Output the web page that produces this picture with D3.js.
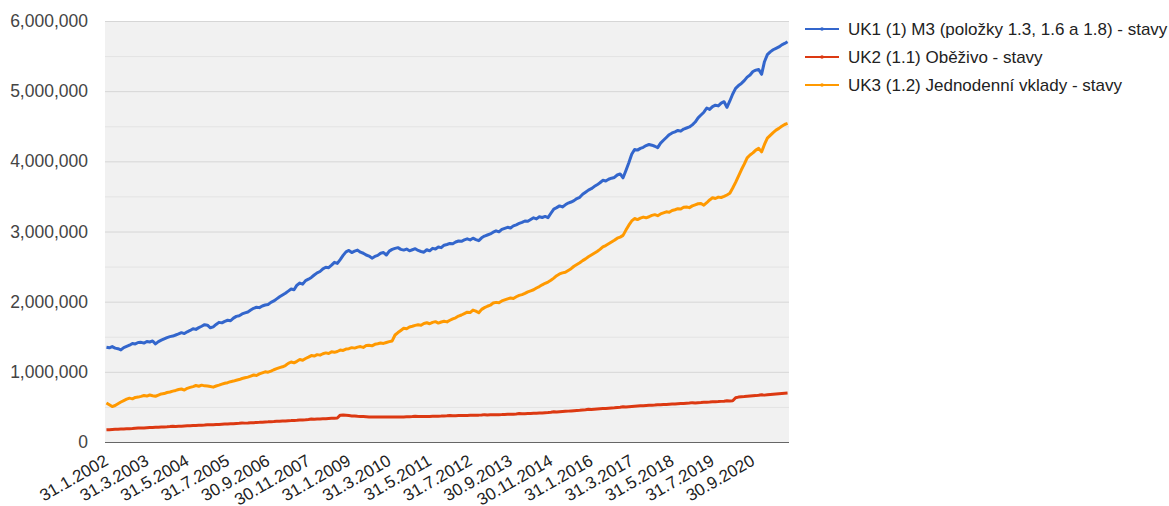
<!DOCTYPE html>
<html><head><meta charset="utf-8">
<script src="https://cdn.jsdelivr.net/npm/d3@7"></script>
<style>
html,body{margin:0;padding:0;background:#fff;}
svg text{font-family:Arial,"Liberation Sans",sans-serif;}
</style></head>
<body>
<svg id="c" width="1169" height="506"></svg>
<script>
// Values in thousands (CZK mil.), monthly from 31.1.2002 to 30.9.2021
const seriesNames = [
  "UK1 (1) M3 (položky 1.3, 1.6 a 1.8) - stavy",
  "UK2 (1.1) Oběživo - stavy",
  "UK3 (1.2) Jednodenní vklady - stavy"
];
const seriesColors = ["#3366cc", "#dc3912", "#ff9900"];

const uk1 = [
  1350,1342,1360,1338,1330,1312,1345,1362,1380,1405,1398,1418,
  1420,1410,1432,1425,1440,1398,1430,1452,1470,1488,1502,1510,
  1525,1540,1558,1545,1570,1590,1615,1605,1630,1650,1672,1665,
  1628,1640,1675,1705,1698,1720,1735,1728,1765,1790,1800,1825,
  1840,1852,1880,1905,1920,1915,1938,1952,1960,1990,2010,2040,
  2070,2095,2120,2150,2180,2170,2235,2265,2250,2300,2320,2345,
  2380,2410,2430,2468,2490,2485,2520,2560,2545,2600,2660,2710,
  2730,2700,2720,2735,2705,2690,2665,2650,2620,2645,2660,2690,
  2700,2665,2720,2745,2760,2770,2745,2735,2750,2725,2740,2755,
  2730,2715,2705,2740,2725,2760,2750,2780,2770,2805,2815,2830,
  2825,2850,2865,2860,2880,2895,2880,2905,2885,2870,2910,2935,
  2950,2965,2990,3010,2995,3030,3045,3060,3050,3080,3095,3115,
  3130,3150,3145,3170,3195,3180,3210,3200,3215,3198,3260,3320,
  3340,3365,3350,3380,3405,3420,3440,3470,3488,3530,3560,3590,
  3610,3640,3665,3695,3730,3720,3745,3760,3770,3805,3820,3765,
  3870,3980,4100,4170,4160,4185,4200,4225,4240,4230,4215,4195,
  4260,4300,4340,4380,4405,4420,4440,4430,4460,4475,4490,4520,
  4560,4620,4660,4700,4760,4740,4780,4800,4790,4830,4850,4770,
  4860,4960,5040,5080,5110,5150,5200,5230,5280,5300,5310,5240,
  5420,5520,5560,5590,5610,5630,5660,5680,5705
];
const uk2 = [
  175,176,178,180,182,184,186,188,190,192,195,198,
  198,200,203,205,207,209,211,213,215,217,220,224,
  222,224,226,228,230,232,234,236,238,240,243,247,
  245,247,249,251,253,255,257,259,261,264,267,271,
  269,271,274,276,278,280,283,285,287,290,293,297,
  295,298,300,303,305,308,310,313,315,318,322,327,
  324,327,329,331,333,335,337,339,342,382,384,380,
  376,372,369,366,364,362,360,358,357,356,356,358,
  356,355,355,356,357,357,358,358,359,360,362,366,
  362,362,363,364,365,366,367,368,369,371,373,378,
  374,375,376,377,378,379,380,381,382,383,385,390,
  386,387,388,389,390,391,393,394,395,397,400,405,
  401,403,405,407,409,411,413,415,418,421,425,431,
  428,431,434,437,440,443,446,449,452,456,460,467,
  464,467,470,473,476,479,482,485,488,492,496,503,
  500,503,506,509,512,515,518,520,522,524,527,532,
  530,533,535,538,540,542,545,547,549,552,555,561,
  557,560,562,565,567,569,572,574,576,579,582,588,
  584,587,630,640,645,648,652,655,658,661,665,672,
  668,672,676,680,684,688,691,694,697
];
const uk3 = [
  555,530,505,520,545,570,590,610,625,615,635,640,
  650,662,655,670,660,652,668,685,690,705,712,725,
  735,748,755,740,765,778,790,805,795,810,800,798,
  790,782,798,810,825,838,845,860,868,880,890,905,
  915,925,940,955,948,970,985,1000,995,1010,1030,1045,
  1060,1072,1090,1120,1140,1128,1150,1175,1165,1190,1210,1232,
  1225,1245,1238,1258,1270,1262,1285,1278,1290,1310,1305,1325,
  1330,1345,1338,1352,1360,1348,1375,1380,1370,1392,1400,1410,
  1405,1418,1430,1440,1525,1560,1590,1620,1615,1640,1650,1662,
  1670,1665,1690,1700,1685,1705,1715,1695,1710,1720,1712,1735,
  1755,1770,1795,1810,1830,1850,1845,1880,1865,1842,1890,1915,
  1935,1950,1980,1990,1985,2010,2025,2040,2052,2045,2070,2090,
  2100,2118,2140,2155,2170,2195,2215,2240,2262,2280,2305,2335,
  2370,2395,2410,2420,2445,2470,2505,2530,2555,2585,2610,2640,
  2665,2690,2715,2745,2780,2800,2825,2850,2875,2905,2920,2945,
  3020,3090,3150,3185,3170,3190,3205,3195,3210,3230,3240,3225,
  3250,3265,3280,3275,3300,3310,3325,3320,3345,3350,3340,3365,
  3380,3395,3400,3375,3410,3450,3480,3470,3490,3485,3500,3520,
  3545,3620,3700,3790,3880,3960,4050,4090,4120,4160,4185,4135,
  4240,4330,4370,4410,4445,4470,4500,4525,4540
];
const tickLabels = ["31.1.2002","31.3.2003","31.5.2004","31.7.2005","30.9.2006","30.11.2007",
  "31.1.2009","31.3.2010","31.5.2011","31.7.2012","30.9.2013","30.11.2014","31.1.2016",
  "31.3.2017","31.5.2018","31.7.2019","30.9.2020"];
const yTicks = [0,1000000,2000000,3000000,4000000,5000000,6000000];
const yMinor = [500000,1500000,2500000,3500000,4500000,5500000];
const UNIT = 1000;

// month-end date categories
const categories = [];
for (let k = 0; k < uk1.length; k++) {
  const yr = 2002 + Math.floor(k / 12), m = k % 12 + 1;
  const last = new Date(yr, m, 0).getDate();
  categories.push(last + "." + m + "." + yr);
}

const L = 105, R = 789, T = 21, B = 442;
const svg = d3.select("#c");
const x = d3.scaleBand().domain(categories).range([L, R]).padding(0);
const y = d3.scaleLinear().domain([0, 6000000]).range([B, T]);
const cx = c => x(c) + x.bandwidth() / 2;

svg.append("rect").attr("x", L).attr("y", T).attr("width", R - L).attr("height", B - T).attr("fill", "#f1f1f1");

// minor grid
svg.append("g").attr("transform", `translate(${L},0)`)
  .call(d3.axisLeft(y).tickValues(yMinor).tickSize(-(R - L)).tickFormat(""))
  .call(g => g.select(".domain").remove())
  .call(g => g.selectAll("line").attr("stroke", "#e3e3e3").attr("stroke-width", 1));
// major grid
svg.append("g").attr("transform", `translate(${L},0)`)
  .call(d3.axisLeft(y).tickValues(yTicks.slice(1)).tickSize(-(R - L)).tickFormat(""))
  .call(g => g.select(".domain").remove())
  .call(g => g.selectAll("line").attr("stroke", "#d6d6d6").attr("stroke-width", 1));

// y labels
svg.append("g").attr("transform", `translate(${L},0)`)
  .call(d3.axisLeft(y).tickValues(yTicks).tickSize(0).tickPadding(17).tickFormat(d3.format(",")))
  .call(g => g.select(".domain").remove())
  .call(g => g.selectAll("text").attr("fill", "#444").attr("font-size", 17.5));

// lines
const series = [uk1, uk2, uk3];
const line = d3.line().x((d, i) => cx(categories[i])).y(d => y(d * UNIT));
[1, 2, 0].forEach(s => {
  svg.append("path").datum(series[s]).attr("d", line)
    .attr("fill", "none").attr("stroke", seriesColors[s]).attr("stroke-width", 3)
    .attr("stroke-linejoin", "round");
});

// baseline
svg.append("line").attr("x1", L).attr("x2", R).attr("y1", B + 0.5).attr("y2", B + 0.5)
  .attr("stroke", "#666").attr("stroke-width", 1.2);

// x labels
const xa = svg.append("g").attr("transform", `translate(0,${B})`)
  .call(d3.axisBottom(x).tickValues(tickLabels).tickSize(0).tickPadding(0));
xa.select(".domain").remove();
xa.selectAll("text").attr("fill", "#222").attr("font-size", 17)
  .attr("text-anchor", "end").attr("dy", null).attr("y", 0)
  .attr("transform", "translate(3,22) rotate(-30)");

// legend
const lg = svg.append("g");
seriesNames.forEach((n, i) => {
  const yy = 29 + i * 28;
  lg.append("line").attr("x1", 805).attr("x2", 839).attr("y1", yy).attr("y2", yy)
    .attr("stroke", seriesColors[i]).attr("stroke-width", 2);
  lg.append("circle").attr("cx", 822).attr("cy", yy).attr("r", 1.8).attr("fill", seriesColors[i]);
  lg.append("text").attr("x", 848).attr("y", yy).attr("dy", "0.35em")
    .attr("font-size", 17).attr("fill", "#222").text(n);
});
</script>
</body></html>
